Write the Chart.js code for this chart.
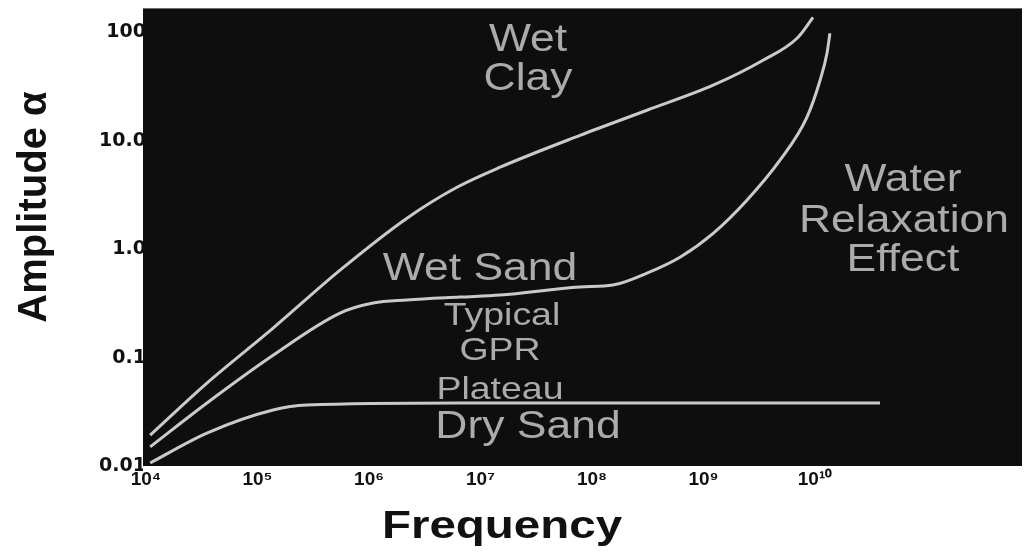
<!DOCTYPE html>
<html>
<head>
<meta charset="utf-8">
<script src="https://cdn.jsdelivr.net/npm/chart.js@4/dist/chart.umd.min.js"></script>
<style>
  html, body { margin: 0; padding: 0; background: #fff; }
  #wrap { width: 1024px; height: 552px; }
</style>
</head>
<body>
<div id="wrap"><canvas id="ampChart" width="1024" height="552"></canvas></div>
<script>
// values (frequency in Hz, amplitude alpha)
const wetClayFreq = [1.09e4, 3.52e4, 1.38e5, 5.5e5, 2.19e6, 6.15e6, 1.5e7, 7.8e7, 3.11e8, 1.22e9, 3.42e9, 6.9e9, 9.6e9];
const wetClayAmp  = [0.0193, 0.0582, 0.187, 0.64, 1.93, 3.72, 5.7, 11.2, 19.1, 32.5, 55.2, 88.1, 137];

const wetSandFreq = [1.09e4, 3.52e4, 1.38e5, 5.5e5, 1.09e6, 2.19e6, 6.55e6, 1.5e7, 7.8e7, 1.54e8, 3.11e8, 6.15e8, 1.22e9, 2.45e9, 4.85e9, 8.47e9, 1.11e10, 1.28e10, 1.36e10];
const wetSandAmp  = [0.015, 0.0381, 0.105, 0.257, 0.318, 0.339, 0.361, 0.377, 0.447, 0.466, 0.601, 0.843, 1.4, 2.83, 6.61, 16.5, 36.1, 64, 98];

const drySandFreq = [1.09e4, 3.52e4, 1.38e5, 2.78e5, 6.55e6, 3.83e10];
const drySandAmp  = [0.01066, 0.0201, 0.0328, 0.0365, 0.0381, 0.0381];

const xTickValues = [1e4, 1e5, 1e6, 1e7, 1e8, 1e9, 1e10];
const xTickLabels = ['10⁴', '10⁵', '10⁶', '10⁷', '10⁸', '10⁹', '10¹⁰'];
const yTickValues = [0.01, 0.1, 1, 10, 100];
const yTickLabels = ['0.01', '0.1', '1.0', '10.0', '100'];

function toPoints(xs, ys) {
    return xs.map((x, i) => ({ x: x, y: ys[i] }));
}

// text inside and around the plot: [text, centre x, centre y, size, stretch]
const plotTexts = [
    ['Wet', 528, 41, 38, 1.17],
    ['Clay', 528, 80, 38, 1.17],
    ['Wet Sand', 480, 270, 38, 1.17],
    ['Typical', 502, 316, 32, 1.17],
    ['GPR', 500, 351, 32, 1.17],
    ['Plateau', 500, 390, 32, 1.17],
    ['Dry Sand', 528, 428, 38, 1.17],
    ['Water', 903, 181, 38, 1.17],
    ['Relaxation', 904, 222, 38, 1.17],
    ['Effect', 903, 261, 38, 1.17]
];

function drawStretched(ctx, text, x, y, font, color, sx, rot) {
    ctx.save();
    ctx.translate(x, y);
    if (rot) ctx.rotate(rot);
    ctx.scale(sx, 1);
    ctx.font = font;
    ctx.fillStyle = color;
    ctx.textAlign = 'center';
    ctx.textBaseline = 'middle';
    ctx.fillText(text, 0, 0);
    ctx.restore();
}

const plotDecor = {
    id: 'plotDecor',
    beforeDatasetsDraw(chart) {
        const { ctx, chartArea } = chart;
        ctx.save();
        ctx.fillStyle = '#0e0e0e';
        ctx.fillRect(chartArea.left, chartArea.top, chartArea.right - chartArea.left, chartArea.bottom - chartArea.top);
        ctx.restore();
    },
    afterDatasetsDraw(chart) {
        const ctx = chart.ctx;
        plotTexts.forEach(([t, x, y, size, sx]) => {
            drawStretched(ctx, t, x, y, size + 'px "Liberation Sans", Arial, sans-serif', '#ababab', sx, 0);
        });
        // axis titles
        drawStretched(ctx, 'Frequency', 502, 528, 'bold 38px "Liberation Sans", Arial, sans-serif', '#111', 1.25, 0);
        drawStretched(ctx, 'Amplitude α', 35, 207, 'bold 40px "Liberation Sans", Arial, sans-serif', '#111', 1.0, -Math.PI / 2);
    }
};

const lineStyle = {
    borderColor: '#cacaca',
    borderWidth: 3,
    pointRadius: 0,
    fill: false,
    cubicInterpolationMode: 'monotone'
};

new Chart(document.getElementById('ampChart'), {
    type: 'line',
    data: {
        datasets: [
            Object.assign({ label: 'Wet Clay', data: toPoints(wetClayFreq, wetClayAmp) }, lineStyle),
            Object.assign({ label: 'Wet Sand', data: toPoints(wetSandFreq, wetSandAmp) }, lineStyle),
            Object.assign({ label: 'Dry Sand', data: toPoints(drySandFreq, drySandAmp) }, lineStyle)
        ]
    },
    options: {
        responsive: false,
        animation: false,
        layout: { padding: { top: 8, right: 2, left: 0, bottom: 0 } },
        plugins: {
            legend: { display: false },
            tooltip: { enabled: false }
        },
        scales: {
            x: {
                type: 'logarithmic',
                min: 9400,
                max: 7.18e11,
                grid: { display: false, drawTicks: false },
                border: { display: false },
                afterBuildTicks: (scale) => { scale.ticks = xTickValues.map(v => ({ value: v })); },
                afterFit: (scale) => { scale.height = 86; },
                ticks: {
                    autoSkip: false,
                    maxRotation: 0,
                    padding: 2,
                    color: '#111',
                    font: { family: '"Liberation Sans", Arial, sans-serif', size: 19, weight: 'bold' },
                    callback: (v, i) => xTickLabels[i]
                }
            },
            y: {
                type: 'logarithmic',
                min: 0.01,
                max: 166,
                grid: { display: false, drawTicks: false },
                border: { display: false },
                afterBuildTicks: (scale) => { scale.ticks = yTickValues.map(v => ({ value: v })); },
                afterFit: (scale) => { scale.width = 143; },
                ticks: {
                    autoSkip: false,
                    padding: -3,
                    color: '#111',
                    font: { family: '"DejaVu Sans", sans-serif', size: 19, weight: 'bold' },
                    callback: (v, i) => yTickLabels[i]
                }
            }
        }
    },
    plugins: [plotDecor]
});
</script>
</body>
</html>
